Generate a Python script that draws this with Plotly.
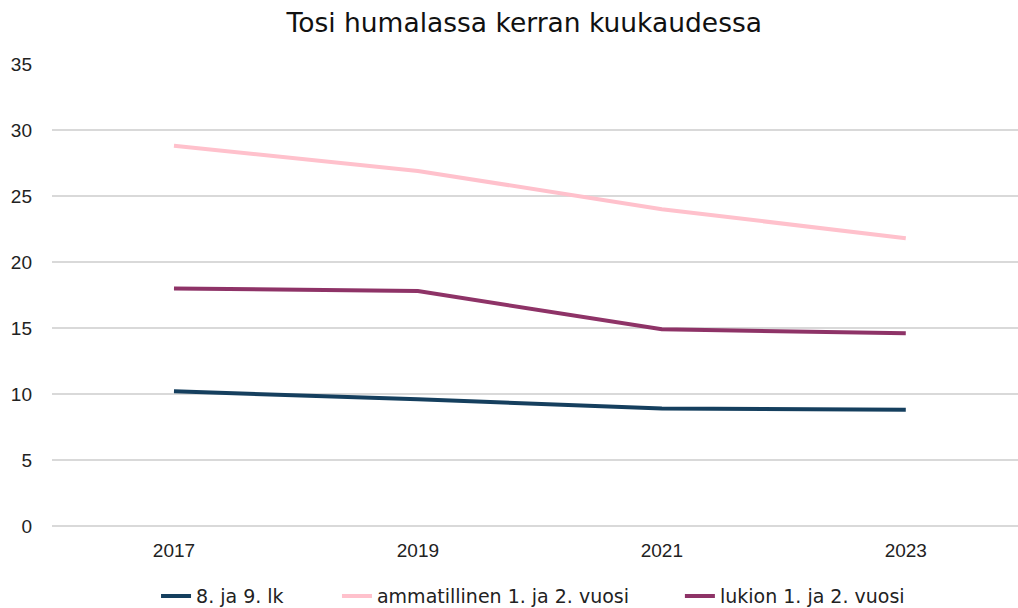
import plotly.graph_objects as go

years = ["2017", "2019", "2021", "2023"]
series_names = ["8. ja 9. lk", "ammatillinen 1. ja 2. vuosi", "lukion 1. ja 2. vuosi"]
lk_8_9 = [10.2, 9.6, 8.9, 8.8]
ammatillinen = [28.8, 26.9, 24.0, 21.8]
lukio = [18.0, 17.8, 14.9, 14.6]
colors = ["#153F5E", "#FFC1CC", "#8E3367"]
title = "Tosi humalassa kerran kuukaudessa"

legend_ids = ["legend", "legend2", "legend3"]
legend_x = [0.1077, 0.295, 0.650]

fig = go.Figure()
for name, vals, col, lg in zip(series_names, [lk_8_9, ammatillinen, lukio], colors, legend_ids):
    fig.add_trace(go.Scatter(x=years, y=vals, name=name, mode="lines", legend=lg,
                             line=dict(color=col, width=4)))

legend_font = dict(family="DejaVu Sans, sans-serif", size=19, color="#222")
legends = {}
for lg, lx in zip(legend_ids, legend_x):
    legends[lg] = dict(orientation="h", x=lx, xanchor="left", xref="paper",
                       y=-0.152, yanchor="middle", font=legend_font,
                       bgcolor="rgba(0,0,0,0)", itemwidth=30)

fig.update_layout(
    width=1018, height=608,
    paper_bgcolor="white", plot_bgcolor="white",
    margin=dict(l=52, r=0, t=64, b=82, autoexpand=False),
    title=dict(text=title, x=0.515, xanchor="center", y=0.962, yanchor="middle",
               font=dict(family="DejaVu Sans, sans-serif", size=26.5, color="#111")),
    xaxis=dict(type="category", range=[-0.5, 3.46], showgrid=False, showline=False,
               automargin=False, ticklabelstandoff=11,
               ticks="", tickfont=dict(family="Liberation Sans, Arial", size=19, color="#222")),
    yaxis=dict(range=[0, 35], dtick=5, showgrid=True, gridcolor="#D9D9D9", gridwidth=1.5,
               zeroline=True, zerolinecolor="#D9D9D9", zerolinewidth=1.5,
               showline=False, ticks="", ticklabelstandoff=19, automargin=False,
               tickfont=dict(family="Liberation Sans, Arial", size=19, color="#222")),
    showlegend=True,
    **legends,
)

fig.write_html("out.html", config={"displayModeBar": False},
               post_script="document.body.style.margin='0';document.body.style.overflow='hidden';")
